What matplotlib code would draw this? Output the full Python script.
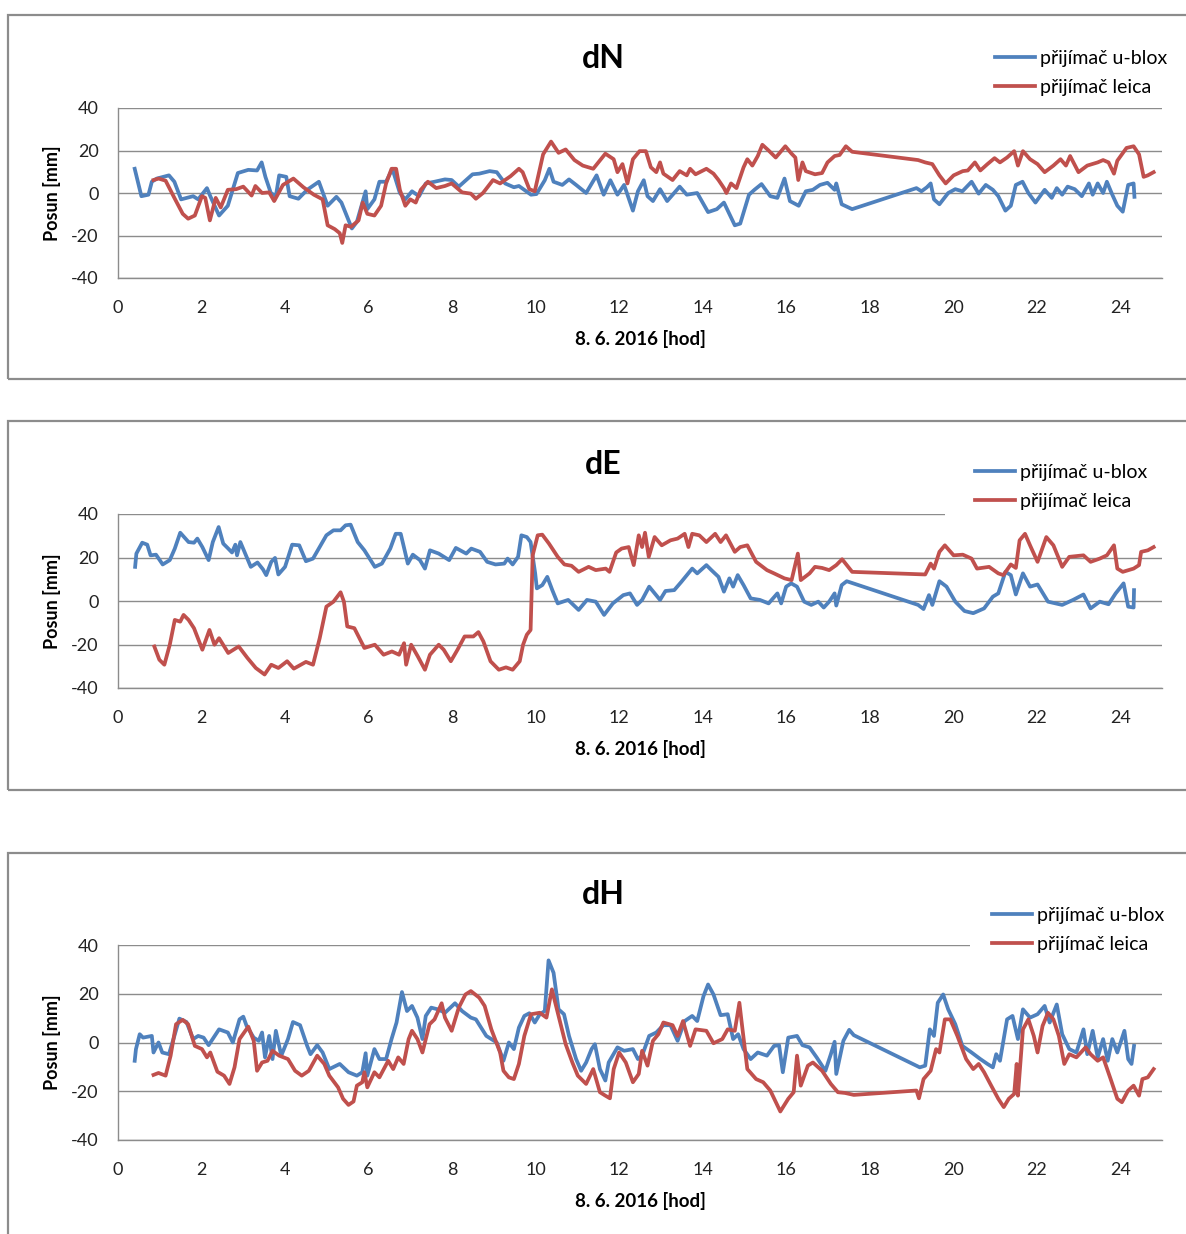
import numpy as np
import matplotlib
matplotlib.use('Agg')
from matplotlib import pyplot as plt
from matplotlib.patches import Rectangle

plt.rcParams['font.family'] = ['Lato', 'DejaVu Sans']
plt.rcParams['axes.unicode_minus'] = False

# ---- data, hours / displacement in mm ----
dn_ublox_h = [0.40, 0.56, 0.73, 0.81, 0.93, 1.22, 1.35, 1.51, 1.80, 1.92, 2.13, 2.21, 2.42, 2.63, 2.87, 3.12, 3.33, 3.44,
              3.53, 3.66, 3.78, 3.86, 4.03, 4.11, 4.32, 4.53, 4.81, 5.02, 5.23, 5.35, 5.60, 5.72, 5.93, 5.97, 6.14, 6.26,
              6.42, 6.57, 6.75, 6.88, 7.04, 7.21, 7.37, 7.58, 7.83, 7.99, 8.16, 8.49, 8.65, 8.90, 9.07, 9.27, 9.48, 9.60,
              9.89, 10.02, 10.22, 10.33, 10.43, 10.64, 10.80, 10.97, 11.21, 11.46, 11.63, 11.79, 11.96, 12.12, 12.33,
              12.45, 12.59, 12.68, 12.81, 12.98, 13.15, 13.45, 13.62, 13.87, 14.13, 14.34, 14.51, 14.77, 14.90, 15.11,
              15.24, 15.41, 15.62, 15.79, 15.96, 16.09, 16.30, 16.47, 16.64, 16.81, 16.99, 17.16, 17.20, 17.33, 17.58,
              19.12, 19.24, 19.37, 19.46, 19.54, 19.67, 19.88, 20.05, 20.22, 20.44, 20.61, 20.78, 20.95, 21.08, 21.25,
              21.38, 21.50, 21.66, 21.80, 21.97, 22.19, 22.36, 22.48, 22.61, 22.74, 22.91, 23.08, 23.25, 23.34, 23.46,
              23.59, 23.68, 23.81, 23.93, 24.06, 24.19, 24.32, 24.34]
dn_ublox = [11.4, -1.5, -0.8, 5.3, 6.8, 8.3, 5.3, -3.0, -1.5, -3.0, 2.3, -1.5, -10.6, -6.0, 9.4, 10.9, 10.6, 14.4,
            7.6, 0.0, -1.5, 8.3, 7.6, -1.5, -2.7, 1.5, 5.3, -6.0, -1.8, -4.5, -16.7, -13.6, 0.8, -7.6, -3.0, 5.3,
            5.3, 11.4, 0.0, -3.0, 0.8, -1.5, 4.5, 5.3, 6.4, 6.1, 3.0, 8.8, 9.1, 10.3, 9.8, 4.5, 2.7, 3.3,
            -0.8, -0.5, 6.0, 11.4, 5.3, 3.8, 6.4, 3.8, 0.0, 8.3, -0.8, 6.0, -0.8, 3.8, -8.3,
            0.8, 6.0, -1.5, -3.8, 1.8, -3.8, 3.0, -0.8, 0.0, -9.0, -7.6, -4.5, -15.2, -14.4, -0.8,
            1.5, 4.2, -1.5, -2.3, 6.8, -3.8, -6.0, 0.8, 1.5, 3.8, 4.8, 1.5, 4.5, -5.3, -7.6,
            2.3, 0.8, 2.7, 4.5, -3.0, -5.3, 0.0, 1.8, 0.8, 5.3, -0.3, 3.8, 1.5, -1.5, -8.3,
            -6.0, 3.8, 5.3, 0.0, -4.5, 1.5, -2.3, 2.3, -0.8, 3.0, 1.8, -1.5, 4.5, -0.8, 4.5,
            0.0, 5.3, -0.8, -6.0, -8.8, 3.8, 4.5, -1.8]

dn_leica_h = [0.85, 0.97, 1.14, 1.35, 1.55, 1.68, 1.84, 2.01, 2.09, 2.20, 2.34, 2.46, 2.63, 2.83, 3.00, 3.20, 3.29, 3.45,
              3.62, 3.74, 3.95, 4.20, 4.44, 4.69, 4.90, 5.02, 5.19, 5.31, 5.37, 5.45, 5.58, 5.76, 5.86, 5.97, 6.14, 6.30,
              6.42, 6.55, 6.66, 6.75, 6.88, 7.00, 7.13, 7.25, 7.42, 7.62, 7.83, 7.99, 8.24, 8.45, 8.57, 8.74, 8.98, 9.15,
              9.40, 9.60, 9.69, 9.85, 9.98, 10.18, 10.37, 10.55, 10.72, 10.93, 11.13, 11.38, 11.67, 11.87, 11.96, 12.08,
              12.20, 12.33, 12.49, 12.64, 12.76, 12.89, 12.98, 13.06, 13.28, 13.45, 13.62, 13.70, 13.83, 14.09, 14.26,
              14.38, 14.51, 14.57, 14.68, 14.81, 14.98, 15.07, 15.19, 15.32, 15.43, 15.58, 15.75, 15.98, 16.13, 16.22,
              16.29, 16.39, 16.47, 16.69, 16.86, 16.99, 17.16, 17.28, 17.43, 17.58, 19.16, 19.33, 19.50, 19.67, 19.82,
              20.01, 20.23, 20.35, 20.52, 20.65, 20.82, 20.99, 21.12, 21.29, 21.46, 21.55, 21.67, 21.84, 22.02, 22.19,
              22.40, 22.57, 22.70, 22.80, 23.00, 23.21, 23.46, 23.59, 23.72, 23.85, 23.93, 24.15, 24.32, 24.45, 24.56,
              24.66, 24.80]
dn_leica = [6.1, 6.8, 5.8, -2.3, -9.8, -12.1, -10.6, -1.5, -2.3, -12.9, -2.3, -6.8, 1.5, 1.8, 3.0, -1.2, 3.3, 0.0,
            0.3, -3.8, 3.8, 6.8, 2.7, -0.8, -3.0, -15.2, -17.0, -18.9, -23.5, -15.2, -15.9, -12.9, -4.5, -9.8, -10.6, -6.0,
            4.5, 11.4, 11.4, 1.5, -6.0, -3.0, -4.5, 1.5, 5.3, 2.3, 3.3, 4.5, 0.3, -0.3, -2.7, 0.0, 6.1, 4.5,
            7.9, 11.4, 9.8, 1.8, 0.8, 18.2, 24.2, 18.9, 20.5, 15.5, 12.9, 11.4, 18.5, 15.9, 9.8, 13.6,
            4.5, 15.9, 19.7, 19.7, 12.1, 9.8, 14.4, 9.1, 6.1, 10.3, 8.3, 11.4, 8.8, 11.4, 9.1,
            6.1, 2.3, 0.0, 4.5, 2.3, 12.1, 15.9, 12.9, 17.4, 22.7, 20.0, 16.7, 22.0, 18.5, 16.7,
            6.1, 14.4, 10.3, 8.8, 9.4, 14.4, 17.4, 17.9, 22.0, 19.4, 15.5, 14.4, 13.6, 8.3, 4.5,
            8.3, 10.3, 10.6, 14.4, 10.6, 13.6, 16.4, 14.4, 16.7, 19.7, 12.9, 19.7, 15.9, 13.6, 9.8,
            12.9, 15.9, 12.9, 17.4, 9.8, 12.9, 14.4, 15.5, 14.4, 9.1, 15.2, 21.2, 22.0, 18.2, 7.6,
            8.3, 9.8]

de_ublox_h = [0.41, 0.44, 0.58, 0.70, 0.78, 0.91, 1.07, 1.24, 1.36, 1.49, 1.69, 1.82, 1.90, 2.02, 2.17, 2.27, 2.41, 2.52,
              2.64, 2.73, 2.81, 2.85, 2.93, 3.18, 3.34, 3.47, 3.55, 3.67, 3.76, 3.84, 4.00, 4.17, 4.34, 4.50, 4.67, 4.83,
              4.99, 5.16, 5.33, 5.45, 5.57, 5.74, 5.90, 6.15, 6.32, 6.52, 6.65, 6.77, 6.94, 7.06, 7.23, 7.35, 7.47, 7.68,
              7.93, 8.09, 8.34, 8.46, 8.67, 8.84, 9.04, 9.25, 9.33, 9.45, 9.58, 9.66, 9.79, 9.88, 9.99, 10.03, 10.16,
              10.28, 10.40, 10.53, 10.78, 11.03, 11.23, 11.44, 11.64, 11.85, 12.10, 12.26, 12.43, 12.55, 12.72, 12.98,
              13.11, 13.32, 13.49, 13.75, 13.87, 14.09, 14.21, 14.38, 14.51, 14.64, 14.73, 14.84, 14.98, 15.15, 15.37,
              15.58, 15.79, 15.88, 16.00, 16.12, 16.26, 16.43, 16.60, 16.77, 16.90, 17.03, 17.16, 17.20, 17.33, 17.45,
              19.16, 19.29, 19.42, 19.50, 19.67, 19.84, 20.05, 20.27, 20.48, 20.74, 20.95, 21.08, 21.25, 21.38, 21.50,
              21.67, 21.84, 22.02, 22.27, 22.61, 22.87, 23.12, 23.29, 23.51, 23.72, 23.89, 24.08, 24.19, 24.32, 24.33]
de_ublox = [15.7, 21.8, 26.8, 25.9, 21.0, 21.3, 16.8, 18.8, 24.1, 31.4, 27.1, 26.8, 28.7, 24.8, 18.8, 27.1, 34.0, 26.4,
            24.1, 22.3, 25.9, 21.0, 27.1, 15.7, 17.7, 14.6, 11.9, 18.0, 19.8, 12.2, 15.7, 25.9, 25.6, 18.3, 19.5, 24.8,
            30.2, 32.5, 32.5, 34.8, 35.1, 27.1, 23.3, 15.7, 17.2, 24.1, 30.9, 30.9, 17.2, 21.3, 18.8, 14.9, 23.3, 21.8,
            18.8, 24.4, 21.8, 24.1, 22.6, 18.0, 16.8, 17.2, 19.5, 16.8, 20.3, 30.2, 29.4, 27.1, 12.7, 5.8, 7.3,
            11.1, 5.0, -1.1, 0.5, -4.1, 0.5, -0.3, -6.4, -1.1, 2.7, 3.5, -1.8, 0.5, 6.6, 0.5,
            4.6, 5.0, 8.8, 14.9, 12.7, 16.5, 14.2, 11.1, 4.3, 10.4, 6.6, 11.9, 7.3, 1.2, 0.5,
            -1.1, 3.5, -1.1, 6.6, 8.1, 6.6, -0.3, -1.8, -0.3, -3.0, -0.3, 3.5, -2.1, 7.3, 9.1,
            -1.8, -3.7, 2.7, -1.8, 9.1, 6.6, -0.3, -4.6, -5.6, -3.4, 2.0, 3.5, 13.4, 11.9, 3.0,
            12.7, 6.6, 7.6, -0.3, -1.8, 0.5, 3.0, -3.4, -0.3, -1.5, 3.5, 8.1, -2.6, -3.0, 5.0]

de_leica_h = [0.87, 0.99, 1.11, 1.24, 1.36, 1.49, 1.57, 1.69, 1.82, 2.02, 2.19, 2.31, 2.42, 2.64, 2.89, 3.10, 3.30, 3.51,
              3.67, 3.84, 4.05, 4.21, 4.50, 4.67, 4.83, 4.99, 5.16, 5.33, 5.41, 5.49, 5.66, 5.90, 6.15, 6.36, 6.56, 6.73,
              6.85, 6.90, 7.02, 7.18, 7.35, 7.47, 7.68, 7.80, 7.97, 8.13, 8.30, 8.51, 8.63, 8.75, 8.92, 9.12, 9.29, 9.45,
              9.62, 9.70, 9.79, 9.88, 9.93, 10.05, 10.16, 10.32, 10.53, 10.69, 10.86, 11.03, 11.27, 11.44, 11.68, 11.77,
              11.93, 12.06, 12.23, 12.35, 12.47, 12.55, 12.62, 12.71, 12.85, 13.02, 13.23, 13.40, 13.57, 13.66, 13.75,
              13.92, 14.09, 14.30, 14.43, 14.56, 14.77, 14.90, 15.07, 15.28, 15.54, 15.71, 15.96, 16.13, 16.28, 16.35,
              16.56, 16.69, 16.86, 17.03, 17.20, 17.34, 17.58, 19.33, 19.46, 19.54, 19.67, 19.80, 20.01, 20.23, 20.44,
              20.57, 20.86, 21.08, 21.20, 21.38, 21.50, 21.59, 21.72, 21.84, 22.02, 22.23, 22.40, 22.61, 22.78, 23.12,
              23.29, 23.51, 23.68, 23.85, 23.93, 24.06, 24.32, 24.45, 24.50, 24.66, 24.80]
de_leica = [-20.9, -27.0, -29.3, -20.1, -8.7, -9.5, -6.4, -8.7, -12.5, -22.4, -13.3, -20.1, -17.1, -23.9, -20.9, -26.2, -30.8, -33.8,
            -29.3, -30.8, -27.7, -31.1, -28.0, -29.3, -17.1, -2.6, -0.3, 4.0, -0.3, -11.7, -12.5, -21.6, -20.1, -24.7, -23.2, -24.7,
            -19.4, -29.3, -20.1, -25.5, -31.6, -24.7, -20.1, -22.4, -27.7, -22.4, -16.3, -16.3, -14.3, -18.6, -27.7, -31.6, -30.5, -31.6,
            -27.7, -20.1, -15.5, -13.3, 21.0, 30.2, 30.5, 26.4, 20.3, 16.8, 16.2, 13.4, 15.7, 14.2, 14.9, 13.4,
            22.3, 24.1, 24.8, 16.5, 30.2, 24.8, 31.4, 20.3, 29.4, 25.6, 27.9, 28.7, 30.9, 24.8, 30.9,
            30.2, 27.1, 30.9, 27.1, 30.2, 22.6, 24.8, 25.6, 18.0, 14.2, 12.7, 10.4, 9.6, 21.8, 9.6,
            12.7, 15.7, 15.2, 14.2, 16.5, 19.2, 13.4, 12.2, 17.2, 14.9, 22.6, 25.6, 21.0, 21.3, 19.5,
            14.9, 15.7, 12.7, 11.9, 16.8, 15.2, 27.9, 30.9, 25.6, 18.0, 29.4, 25.6, 15.7, 20.3, 21.0,
            18.0, 19.5, 21.0, 25.6, 14.9, 13.4, 14.9, 16.5, 22.6, 23.3, 24.8]

dh_ublox_h = [0.40, 0.43, 0.52, 0.60, 0.81, 0.85, 0.97, 1.06, 1.22, 1.35, 1.47, 1.64, 1.80, 1.92, 2.05, 2.17, 2.42, 2.63,
              2.75, 2.91, 3.00, 3.08, 3.25, 3.37, 3.45, 3.52, 3.62, 3.70, 3.78, 3.91, 4.07, 4.19, 4.36, 4.53, 4.61, 4.77,
              4.90, 5.06, 5.31, 5.52, 5.72, 5.85, 5.93, 5.97, 6.14, 6.26, 6.42, 6.55, 6.67, 6.80, 6.92, 7.04, 7.17, 7.29,
              7.37, 7.50, 7.66, 7.83, 8.07, 8.24, 8.45, 8.57, 8.82, 9.07, 9.23, 9.36, 9.48, 9.60, 9.73, 9.85, 9.98,
              10.10, 10.22, 10.31, 10.43, 10.55, 10.68, 10.80, 10.97, 11.09, 11.21, 11.34, 11.42, 11.54, 11.67, 11.75,
              11.96, 12.12, 12.33, 12.45, 12.55, 12.72, 12.89, 13.06, 13.23, 13.40, 13.57, 13.75, 13.87, 14.02, 14.13,
              14.26, 14.43, 14.60, 14.73, 14.85, 14.98, 15.15, 15.32, 15.54, 15.71, 15.83, 15.92, 16.05, 16.26, 16.39,
              16.56, 16.73, 16.94, 17.07, 17.16, 17.20, 17.37, 17.51, 17.62, 19.20, 19.33, 19.44, 19.54, 19.63, 19.76,
              19.88, 20.05, 20.22, 20.44, 20.65, 20.82, 20.95, 21.03, 21.12, 21.29, 21.42, 21.55, 21.67, 21.84, 22.02,
              22.19, 22.31, 22.48, 22.61, 22.78, 22.95, 23.12, 23.21, 23.34, 23.46, 23.59, 23.70, 23.81, 23.93, 24.10,
              24.19, 24.27, 24.33]
dh_ublox = [-7.5, -2.7, 3.4, 2.0, 2.7, -4.1, 0.0, -4.1, -4.8, 2.7, 9.8, 8.4, 1.4, 2.7, 2.0, -1.1, 5.4, 4.1,
            0.0, 9.5, 10.6, 6.8, 2.0, 0.7, 4.1, -6.1, 2.7, -6.8, 4.8, -5.4, 1.4, 8.4, 7.1, -1.4, -4.8, -1.1,
            -4.1, -10.9, -8.8, -12.2, -13.6, -12.2, -4.4, -13.6, -2.7, -6.8, -6.8, 1.4, 8.2, 20.7, 12.9, 15.0, 10.2, 1.4,
            10.9, 14.3, 13.6, 12.2, 16.1, 12.9, 10.2, 9.5, 2.7, 0.0, -7.5, 0.0, -2.7, 6.1, 10.9, 12.0, 8.2,
            11.6, 12.9, 33.7, 28.6, 13.6, 11.6, 2.7, -6.8, -11.6, -8.2, -2.7, -0.7, -10.9, -15.6, -8.2,
            -2.0, -3.4, -2.7, -6.8, -5.4, 2.7, 4.1, 7.1, 7.1, 0.7, 8.8, 10.9, 8.8, 19.0, 23.8,
            19.7, 11.2, 11.6, 1.4, 3.4, -2.7, -6.8, -4.1, -5.4, -1.4, -1.1, -12.2, 2.0, 2.7, -1.1,
            -2.0, -6.1, -11.6, -4.8, 0.3, -12.9, 0.7, 5.2, 3.0, -10.2, -9.5, 5.4, 2.7, 16.3, 19.7,
            13.6, 7.5, -1.4, -4.1, -6.8, -8.8, -10.2, -4.8, -7.5, 9.5, 10.9, 1.4, 13.6, 10.2, 11.6,
            15.0, 8.2, 15.6, 3.4, -2.7, -4.1, 5.4, -4.8, 4.8, -6.1, 1.4, -7.5, 1.4, -4.1, 4.8,
            -6.8, -8.8, -1.4]

dh_leica_h = [0.85, 0.97, 1.14, 1.26, 1.39, 1.55, 1.68, 1.84, 2.01, 2.13, 2.21, 2.38, 2.54, 2.67, 2.79, 2.91, 3.12, 3.25,
              3.33, 3.45, 3.58, 3.70, 3.86, 4.07, 4.24, 4.40, 4.57, 4.77, 4.94, 5.06, 5.27, 5.39, 5.52, 5.64, 5.72, 5.85,
              5.90, 5.97, 6.14, 6.26, 6.47, 6.59, 6.71, 6.84, 6.96, 7.04, 7.17, 7.29, 7.46, 7.58, 7.75, 7.83, 7.99, 8.16,
              8.32, 8.45, 8.65, 8.78, 8.94, 9.15, 9.23, 9.36, 9.48, 9.60, 9.73, 9.89, 10.10, 10.26, 10.39, 10.55, 10.72,
              10.88, 11.01, 11.21, 11.38, 11.54, 11.67, 11.78, 11.87, 12.00, 12.16, 12.33, 12.47, 12.55, 12.68, 12.81,
              12.94, 13.06, 13.28, 13.40, 13.53, 13.70, 13.83, 14.09, 14.26, 14.47, 14.60, 14.77, 14.88, 14.94, 15.07,
              15.28, 15.45, 15.62, 15.86, 16.05, 16.18, 16.26, 16.35, 16.52, 16.64, 16.86, 17.07, 17.24, 17.41, 17.62,
              19.12, 19.18, 19.29, 19.46, 19.59, 19.67, 19.80, 19.93, 20.10, 20.31, 20.48, 20.61, 20.74, 20.91, 21.08,
              21.21, 21.33, 21.46, 21.52, 21.55, 21.67, 21.80, 21.93, 22.02, 22.14, 22.27, 22.40, 22.53, 22.66, 22.78,
              22.95, 23.17, 23.29, 23.46, 23.59, 23.77, 23.93, 24.04, 24.19, 24.32, 24.45, 24.53, 24.66, 24.80]
dh_leica = [-13.3, -12.5, -13.6, -5.4, 7.5, 9.3, 7.5, -1.4, -2.7, -6.1, -4.1, -12.0, -13.6, -17.0, -10.2, 1.4, 6.5, 0.7,
            -11.6, -8.2, -7.5, -3.4, -5.4, -6.8, -11.6, -13.6, -11.6, -5.4, -8.8, -13.6, -18.4, -23.1, -25.6, -24.2, -17.7, -16.3,
            -12.2, -18.4, -12.2, -14.3, -7.5, -10.9, -6.1, -8.8, 1.4, 4.8, 1.4, -4.1, 7.5, 9.5, 16.1, 10.2, 4.8, 14.3,
            19.7, 21.1, 18.4, 15.0, 5.4, -4.1, -11.6, -14.3, -15.0, -8.8, 2.7, 11.6, 12.2, 10.2, 21.8, 10.9, -0.7,
            -8.2, -13.6, -17.0, -10.9, -20.4, -21.8, -22.9, -10.9, -4.1, -8.2, -16.3, -12.9, -3.4, -9.5, 0.7,
            3.4, 8.2, 7.1, 2.7, 8.8, -1.4, 5.4, 4.8, -0.3, 1.4, 5.4, 4.8, 16.3, 7.5, -10.9,
            -15.0, -16.3, -19.7, -28.3, -23.1, -20.4, -5.4, -17.7, -9.5, -8.2, -11.6, -17.0, -20.4, -20.7, -21.5,
            -19.7, -22.9, -15.0, -11.6, -2.7, -4.1, 9.5, 9.5, 2.7, -6.8, -10.9, -8.8, -12.2, -17.7, -23.1,
            -26.5, -23.1, -21.1, -8.8, -21.8, 5.4, 9.5, 2.7, -4.1, 6.8, 12.2, 9.5, 2.7, -8.8, -4.8,
            -6.1, -2.0, -4.8, -7.5, -6.1, -15.0, -23.1, -24.5, -19.7, -17.7, -21.8, -15.0, -14.3, -10.9]

titles = ['dN', 'dE', 'dH']
series_names = ['přijímač u-blox', 'přijímač leica']
x_label = '8. 6. 2016 [hod]'
y_label = 'Posun [mm]'
x_ticks = list(range(0, 25, 2))
y_ticks = [-40, -20, 0, 20, 40]

panels = [
    (dn_ublox_h, dn_ublox, dn_leica_h, dn_leica),
    (de_ublox_h, de_ublox, de_leica_h, de_leica),
    (dh_ublox_h, dh_ublox, dh_leica_h, dh_leica),
]

BLUE = '#4F81BD'
RED = '#C0504D'
GRID = '#8c8c8c'

W, H = 1186, 1234
fig = plt.figure(figsize=(W / 100, H / 100), dpi=100)

def fx(px):
    return px / W

def fy(py):
    return 1 - py / H

# pixel layout for each panel: frame top/bottom, plot top/bottom, title y, legend anchor, white patch start
layout = [
    dict(frame=(15, 379), plot=(108, 278), title=58, leg=(995, 50), cover=None),
    dict(frame=(421, 790), plot=(514, 688), title=464, leg=(975, 464), cover=945),
    dict(frame=(853, 1260), plot=(945, 1140), title=895, leg=(992, 907), cover=970),
]
x0, x1 = 118, 1162

for (bh, bv, rh, rv), lay, title in zip(panels, layout, titles):
    ft, fb = lay['frame']
    fig.add_artist(Rectangle((fx(8), fy(fb)), fx(1300), fy(ft) - fy(fb), transform=fig.transFigure,
                             fill=False, edgecolor=GRID, lw=1.6))
    pt, pb = lay['plot']
    ax = fig.add_axes([fx(x0), fy(pb), fx(x1 - x0), fy(pt) - fy(pb)])
    ax.plot(bh, bv, color=BLUE, lw=2.7, label=series_names[0], solid_joinstyle='round', zorder=3)
    ax.plot(rh, rv, color=RED, lw=2.7, label=series_names[1], solid_joinstyle='round', zorder=3)
    ax.set_xlim(0, 25)
    ax.set_ylim(-40, 40)
    ax.set_xticks(x_ticks)
    ax.set_yticks(y_ticks)
    ax.tick_params(axis='x', length=0, labelsize=13, colors='#222222', pad=16)
    ax.tick_params(axis='y', length=0, labelsize=13, colors='#222222', pad=14)
    ax.set_axisbelow(True)
    ax.grid(axis='y', color=GRID, lw=1)
    for s in ['top', 'right']:
        ax.spines[s].set_visible(False)
    for s in ['left', 'bottom']:
        ax.spines[s].set_color(GRID)
        ax.spines[s].set_linewidth(1)
    ax.set_xlabel(x_label, fontsize=13.5, fontweight='bold', labelpad=10)
    ax.set_ylabel(y_label, fontsize=13, fontweight='bold', labelpad=7)
    fig.text(fx(603), fy(lay['title']), title, fontsize=23, fontweight='bold', ha='center', va='center')
    if lay['cover'] is not None:
        # legend box hides the top gridline from here on
        ax.add_artist(Rectangle((fx(lay['cover']), fy(pt + 6)), fx(240), fy(pt - 8) - fy(pt + 6),
                                transform=fig.transFigure, facecolor='white', edgecolor='none',
                                zorder=1, clip_on=False))
    lx, ly = lay['leg']
    leg = ax.legend(loc='upper left', bbox_to_anchor=(fx(lx), fy(ly)), bbox_transform=fig.transFigure,
                    frameon=False, fontsize=14, handlelength=2.05, handletextpad=0.26,
                    labelspacing=0.6, borderpad=0, borderaxespad=0)

fig.savefig('out.png', dpi=100)
